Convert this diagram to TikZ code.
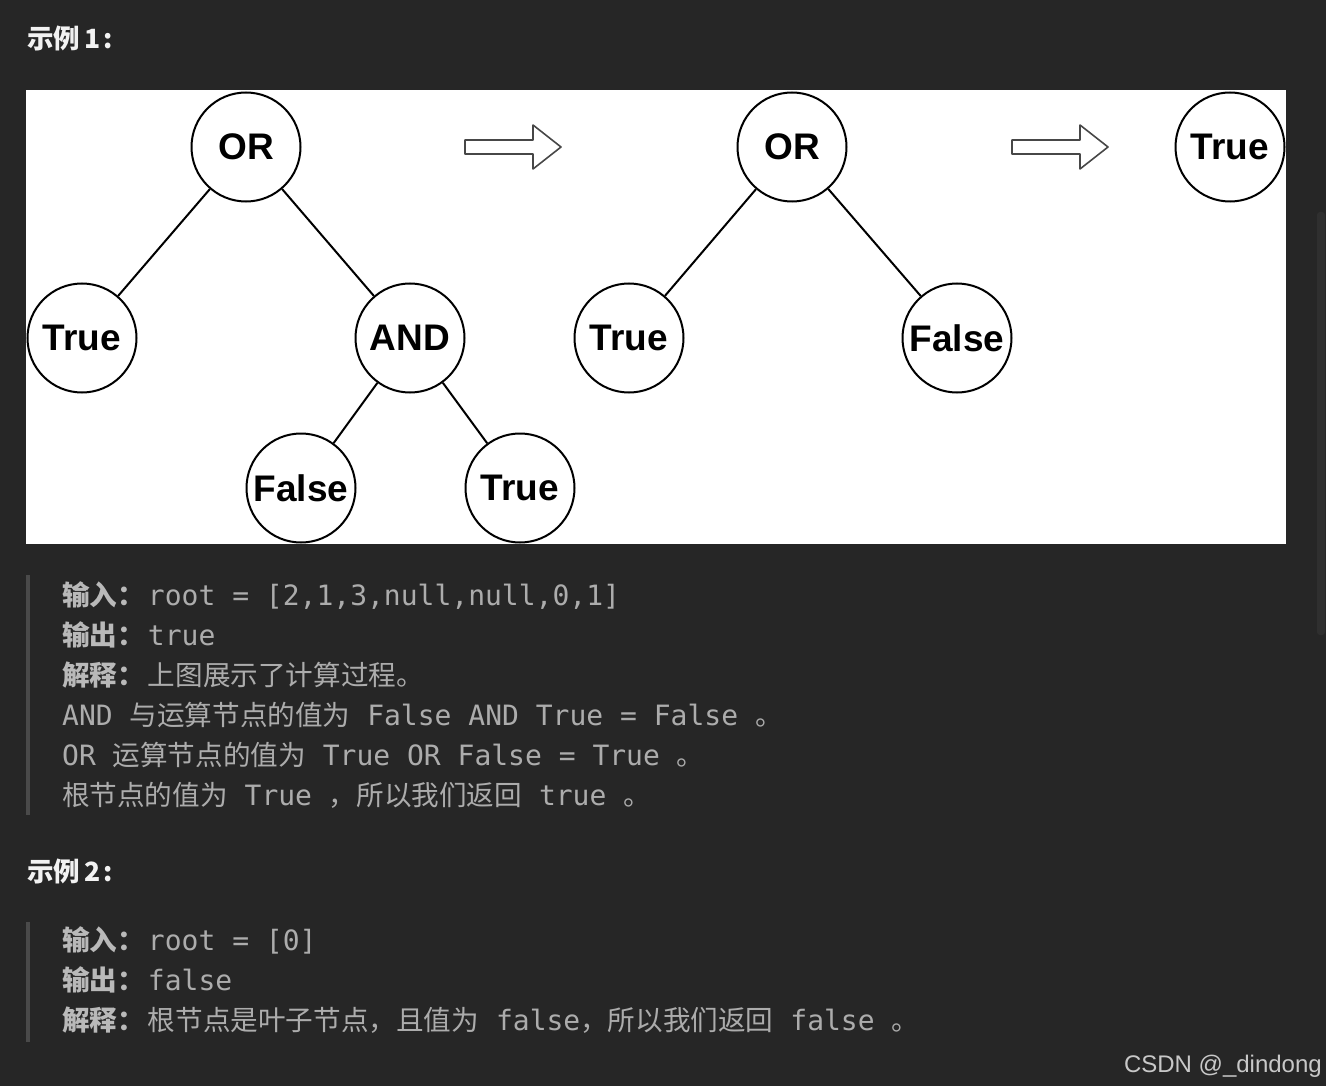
\documentclass[tikz,border=0pt]{standalone}
\usepackage{fontspec}
\usepackage{xcolor}
\usepackage{tikz}
\setmainfont{Liberation Sans}
\setmonofont{DejaVu Sans Mono}
\newfontfamily\cjk{Noto Sans CJK SC}

\definecolor{pagebg}{RGB}{38,38,38}
\definecolor{bodytext}{RGB}{172,172,172}
\definecolor{labeltext}{RGB}{185,185,185}
\definecolor{headtext}{RGB}{242,242,242}
\definecolor{quotebar}{RGB}{74,74,74}
\definecolor{scrollbar}{RGB}{47,47,47}
\definecolor{marktext}{RGB}{200,200,200}

\newcommand{\mn}[1]{{\ttfamily\fontsize{28}{28}\selectfont #1}}
\newcommand{\lbl}[1]{{\cjk\bfseries\color{labeltext}#1}\hspace{3pt}}

\begin{document}
\begin{tikzpicture}[
    x=1pt, y=-1pt,
    bool/.style={circle, draw, line width=2pt, fill=white, minimum size=109pt, inner sep=0pt, font=\bfseries\fontsize{37}{37}\selectfont},
    edge/.style={line width=2pt},
    bigarrow/.style={draw=black!72, line width=1.6pt, fill=white, line join=round},
    heading/.style={anchor=base west, inner sep=0pt, text=headtext, font=\cjk\bfseries\fontsize{26.5}{26.5}\selectfont},
    textline/.style={anchor=base west, inner sep=0pt, text=bodytext, font=\cjk\fontsize{27.6}{27.6}\selectfont},
]

% page and picture panel
\fill[pagebg] (0,0) rectangle (1326,1086);
\fill[white] (26,90) rectangle (1286,544);
\fill[scrollbar, rounded corners=3pt] (1317,212) rectangle (1325,635);

% === Example 1 heading ===
\node[heading] (head1) at (27,49) {示例\hspace{4pt}1\hspace{3pt}:};

% === Tree before evaluation ===
\node[bool] (or1) at (246,147) {OR};
\node[bool] (true1) at (82,338) {True};
\node[bool] (and1) at (410,338) {AND};
\node[bool] (false1) at (301,488) {False};
\node[bool] (true2) at (520,488) {True};

\draw[edge] (or1) -- (true1);
\draw[edge] (or1) -- (and1);
\draw[edge] (and1) -- (false1);
\draw[edge] (and1) -- (true2);

% === After AND is evaluated ===
\node[bool] (or2) at (792,147) {OR};
\node[bool] (true3) at (629,338) {True};
\node[bool] (false2) at (957,338) {False};

\draw[edge] (or2) -- (true3);
\draw[edge] (or2) -- (false2);

% === Final value ===
\node[bool] (true4) at (1230,147) {True};

% hollow step arrows
\foreach \ax in {465,1012}
  \draw[bigarrow] (\ax,140) -- ++(68,0) -- ++(0,-15) -- ++(28,22) -- ++(-28,22) -- ++(0,-15) -- ++(-68,0) -- cycle;

% === Example 1 text ===
\fill[quotebar] (26,575) rectangle (30,815);
\node[textline] (in1) at (62,605) {\lbl{输入：}\mn{root = [2,1,3,null,null,0,1]}};
\node[textline] (out1) at (62,645) {\lbl{输出：}\mn{true}};
\node[textline] (expl1) at (62,685) {\lbl{解释：}上图展示了计算过程。};
\node[textline] (step1) at (62,725) {\mn{AND }与运算节点的值为\mn{ False AND True = False }。};
\node[textline] (step2) at (62,765) {\mn{OR }运算节点的值为\mn{ True OR False = True }。};
\node[textline] (step3) at (62,805) {根节点的值为\mn{ True }，所以我们返回\mn{ true }。};

% === Example 2 ===
\node[heading] (head2) at (27,881) {示例\hspace{4pt}2\hspace{3pt}:};
\fill[quotebar] (26,922) rectangle (30,1042);
\node[textline] (in2) at (62,950) {\lbl{输入：}\mn{root = [0]}};
\node[textline] (out2) at (62,990) {\lbl{输出：}\mn{false}};
\node[textline] (expl2) at (62,1030) {\lbl{解释：}根节点是叶子节点，且值为\mn{ false}，所以我们返回\mn{ false }。};

% watermark
\node[anchor=base east, inner sep=0pt, text=marktext, font=\fontsize{24}{24}\selectfont] (mark) at (1322,1072) {CSDN @\_dindong};

\end{tikzpicture}
\end{document}
